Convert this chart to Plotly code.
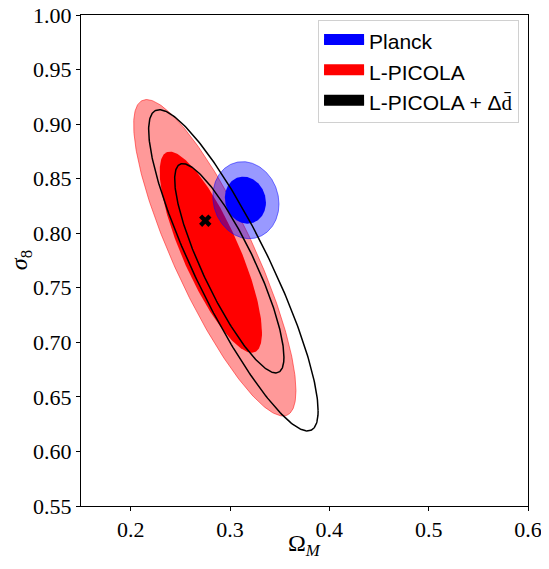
import numpy as np
import plotly.graph_objects as go

# contour ellipses: centre (Omega_M, sigma_8), half-extent in x and y, correlation
planck_1s = dict(cx=0.3155, cy=0.8303, ax=0.0207, ay=0.0216, rho=-0.10)
planck_2s = dict(cx=0.3160, cy=0.8303, ax=0.0333, ay=0.0353, rho=-0.10)
picola_1s = dict(cx=0.2807, cy=0.7826, ax=0.0515, ay=0.0922, rho=-0.80)
picola_2s = dict(cx=0.2847, cy=0.7775, ax=0.0817, ay=0.1450, rho=-0.84)
picola_dd_1s = dict(cx=0.2993, cy=0.7679, ax=0.0550, ay=0.0959, rho=-0.85)
picola_dd_2s = dict(cx=0.3034, cy=0.7660, ax=0.0853, ay=0.1472, rho=-0.875)

fiducial_om = [0.2751]
fiducial_s8 = [0.8115]

x_ticks = [0.2, 0.3, 0.4, 0.5, 0.6]
y_ticks = [0.55, 0.60, 0.65, 0.70, 0.75, 0.80, 0.85, 0.90, 0.95, 1.00]

SERIF = "Liberation Serif"
SANS = "Liberation Sans"


def ellipse(e, n=300):
    t = np.linspace(0, 2 * np.pi, n)
    x = e["cx"] + e["ax"] * np.cos(t)
    y = e["cy"] + e["ay"] * (e["rho"] * np.cos(t) + np.sqrt(1 - e["rho"] ** 2) * np.sin(t))
    return x, y


def filled(e, fill, line, width=1):
    x, y = ellipse(e)
    return go.Scatter(x=x, y=y, mode="lines", fill="toself", fillcolor=fill,
                      line=dict(color=line, width=width), showlegend=False,
                      hoverinfo="skip")


def outline(e):
    x, y = ellipse(e)
    return go.Scatter(x=x, y=y, mode="lines", line=dict(color="black", width=1.5),
                      showlegend=False, hoverinfo="skip")


fig = go.Figure()
fig.add_trace(filled(picola_2s, "rgba(255,0,0,0.4)", "rgba(255,0,0,0.5)"))
fig.add_trace(filled(picola_1s, "rgb(255,0,0)", "rgba(255,0,0,0)", 0))
fig.add_trace(filled(planck_2s, "rgba(0,0,255,0.4)", "rgba(0,0,255,0.5)"))
fig.add_trace(filled(planck_1s, "rgb(0,0,255)", "rgba(0,0,255,0)", 0))
fig.add_trace(outline(picola_dd_2s))
fig.add_trace(outline(picola_dd_1s))

fig.add_trace(go.Scatter(x=fiducial_om, y=fiducial_s8, mode="markers",
                         marker=dict(symbol="x", size=11, color="black",
                                     line=dict(width=0)),
                         showlegend=False))

# legend entries (no data, only the patch)
for name, col in [("Planck", "blue"), ("L-PICOLA", "red"),
                  ("L-PICOLA + Δ<span style='font-family:Liberation Serif'>d̄</span>", "black")]:
    fig.add_trace(go.Scatter(x=[None], y=[None], mode="lines", fill="toself",
                             fillcolor=col, line=dict(color=col, width=14), name=name))

axis_style = dict(showline=True, mirror=True, linecolor="black", linewidth=1,
                  ticks="outside", ticklen=4, tickcolor="black", showgrid=False,
                  zeroline=False, automargin=False, ticklabeloverflow="allow",
                  tickfont=dict(family=SERIF, size=22, color="black"))

fig.update_xaxes(range=[0.15, 0.6], tickvals=x_ticks,
                 ticktext=[f"{v:.1f}" for v in x_ticks], **axis_style)
fig.update_yaxes(range=[0.55, 1.0], tickvals=y_ticks,
                 ticktext=[f"{v:.2f}" for v in y_ticks], **axis_style)

fig.add_annotation(text="Ω<sub><i>M</i></sub>", xref="paper", yref="paper",
                   x=0.501, y=-0.08, xanchor="center", yanchor="middle",
                   showarrow=False, font=dict(family=SERIF, size=24, color="black"))
fig.add_annotation(text="<i>σ</i><sub>8</sub>", xref="paper", yref="paper",
                   x=-0.135, y=0.50, xanchor="center", yanchor="middle",
                   textangle=-90, showarrow=False,
                   font=dict(family=SERIF, size=24, color="black"))

# page body has an 8px margin, so offsets are taken off the left/top margins
fig.update_layout(
    width=549, height=569,
    margin=dict(l=73, r=29, t=7, b=71, autoexpand=False),
    paper_bgcolor="white", plot_bgcolor="white",
    legend=dict(x=0.98, y=0.99, xanchor="right", yanchor="top",
                bgcolor="white", bordercolor="#d0d0d0", borderwidth=1,
                font=dict(family=SANS, size=21, color="black"),
                itemwidth=40, tracegroupgap=4),
)

fig.write_html("out.html")
